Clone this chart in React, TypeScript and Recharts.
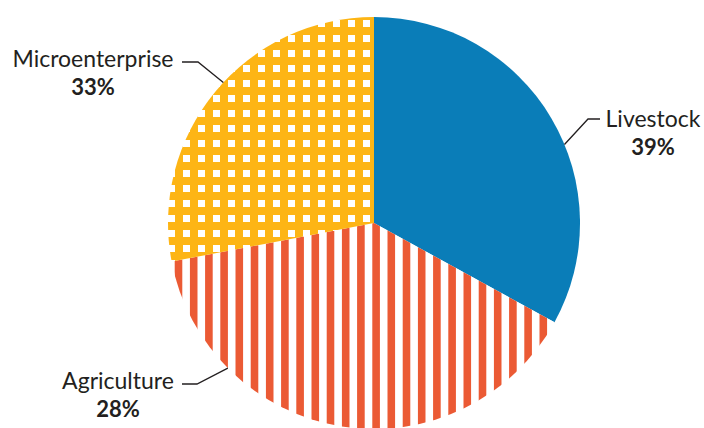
import React from 'react';
import { PieChart, Pie, Cell } from 'recharts';

// slice shares as drawn (degrees of arc / 3.6); printed labels differ
const categories = ['Livestock', 'Agriculture', 'Microenterprise'];
const shares = [33, 39, 28];
const shareLabels = ['39%', '28%', '33%'];

const data = categories.map((name, i) => ({ name, value: shares[i], label: shareLabels[i] }));

const fills = ['#0A7DB8', 'url(#stripes)', 'url(#checks)'];

// label placement: angle where the leader meets the rim, elbow, text centre
const labelLayout = [
  { angle: 22.4, elbowX: 600, lineEndX: 588, y: 119, textX: 653, textY: 127 },
  { angle: 224.8, elbowX: 197, lineEndX: 182, y: 384, textX: 118, textY: 389 },
  { angle: 137, elbowX: 198, lineEndX: 182, y: 62, textX: 93, textY: 67 },
];

const RADIAN = Math.PI / 180;

const renderLabel = (props: any) => {
  const { cx, cy, outerRadius, index } = props;
  const l = labelLayout[index];
  const x0 = cx + outerRadius * Math.cos(l.angle * RADIAN);
  const y0 = cy - outerRadius * Math.sin(l.angle * RADIAN);
  const right = l.lineEndX > cx;
  const elbow = right ? l.lineEndX : l.elbowX;
  const end = right ? l.elbowX : l.lineEndX;
  return (
    <g key={`label-${index}`}>
      <polyline
        points={`${x0},${y0} ${elbow},${l.y} ${end},${l.y}`}
        fill="none"
        stroke="#231F20"
        strokeWidth={1.3}
      />
      <text x={l.textX} y={l.textY} textAnchor="middle" fill="#231F20" fontSize={23} fontFamily="Lato">
        {categories[index]}
      </text>
      <text
        x={l.textX}
        y={l.textY + 28}
        textAnchor="middle"
        fill="#231F20"
        fontSize={22}
        fontWeight="bold"
        fontFamily="Lato"
      >
        {shareLabels[index]}
      </text>
    </g>
  );
};

export default function App() {
  return (
    <div style={{ position: 'absolute', left: 0, top: 0, width: 704, height: 428, background: '#fff' }}>
      <PieChart width={704} height={428} margin={{ top: 0, right: 0, bottom: 0, left: 0 }}>
        <defs>
          <pattern id="stripes" patternUnits="userSpaceOnUse" x={372.3} y={0} width={15.2} height={15}>
            <rect width={15.2} height={15} fill="#fff" />
            <rect width={7.6} height={15} fill="#EB5A34" />
          </pattern>
          <pattern id="checks" patternUnits="userSpaceOnUse" x={3} y={5} width={15} height={15}>
            <rect width={15} height={15} fill="#FDB515" />
            <rect width={7} height={7} fill="#fff" />
          </pattern>
        </defs>
        <Pie
          data={data}
          dataKey="value"
          nameKey="name"
          cx={374}
          cy={223}
          outerRadius={206}
          startAngle={90}
          endAngle={-270}
          stroke="none"
          label={renderLabel}
          labelLine={false}
          isAnimationActive={false}
        >
          {data.map((d, i) => (
            <Cell key={d.name} fill={fills[i]} />
          ))}
        </Pie>
      </PieChart>
    </div>
  );
}
